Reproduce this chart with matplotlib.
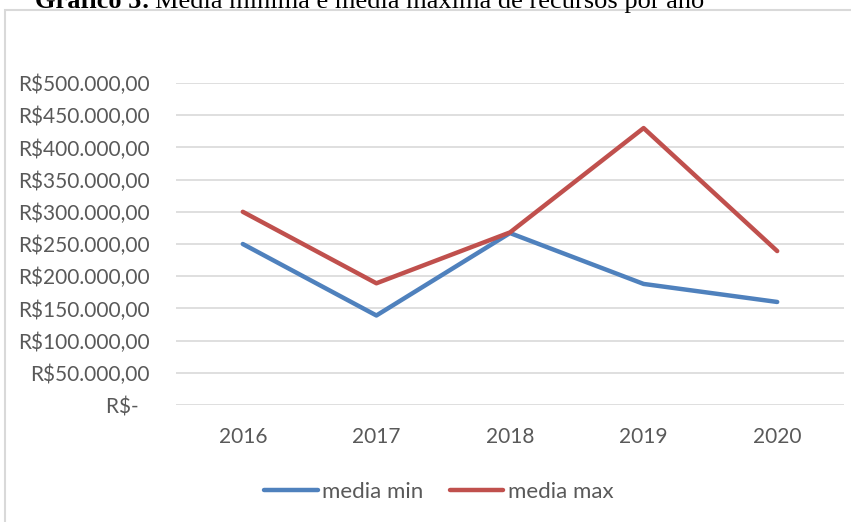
import matplotlib.pyplot as plt
from matplotlib.patches import Rectangle
from matplotlib.ticker import FuncFormatter

# data
years = ['2016', '2017', '2018', '2019', '2020']
media_min = [250000, 139000, 267000, 188000, 160000]
media_max = [300000, 189000, 268000, 430000, 239000]
y_ticks = [0, 50000, 100000, 150000, 200000, 250000, 300000, 350000, 400000, 450000, 500000]

blue = '#4F81BD'
red = '#C0504D'
grey_txt = '#595959'
fs = 15

fig = plt.figure(figsize=(8.51, 5.22), dpi=100)

# chart frame (light grey border, running off the right/bottom edge)
fig.patches.append(Rectangle((5 / 851, -0.1), 1.1, 1 - 10 / 522 + 0.1,
                             transform=fig.transFigure, fill=False,
                             edgecolor='#d9d9d9', linewidth=1.5))

# caption above the chart, cut off at the top edge like in the original
t1 = fig.text(35 / 851, 1 - 8 / 522, 'Gráfico 5:', family='Liberation Serif',
              fontsize=19, fontweight='bold', va='baseline', ha='left')
r = fig.canvas.get_renderer()
bb = t1.get_window_extent(renderer=r)
fig.text((bb.x1 + 5) / 851, 1 - 8 / 522, 'Média mínima e média máxima de recursos por ano',
         family='Liberation Serif', fontsize=19, va='baseline', ha='left')

ax = fig.add_axes([176 / 851, 1 - 405 / 522, (844 - 176) / 851, (405 - 83) / 522])

x = range(len(years))
ax.plot(x, media_min, color=blue, lw=3.2, solid_capstyle='round', label='media min', zorder=3)
ax.plot(x, media_max, color=red, lw=3.2, solid_capstyle='round', label='media max', zorder=3)

ax.set_xlim(-0.5, len(years) - 0.5)
ax.set_ylim(0, 500000)
ax.set_xticks(list(x))
ax.set_xticklabels(years)
ax.set_yticks(y_ticks)


def brl(v, pos):
    if v == 0:
        return 'R$-  '
    s = f'{v:,.2f}'.replace(',', 'X').replace('.', ',').replace('X', '.')
    return 'R$' + s


ax.yaxis.set_major_formatter(FuncFormatter(brl))
ax.grid(axis='y', color='#d9d9d9', lw=1.2)
ax.set_axisbelow(True)
for s in ax.spines.values():
    s.set_visible(False)
ax.tick_params(axis='both', length=0, labelcolor=grey_txt, labelsize=fs)
ax.tick_params(axis='y', pad=19)
ax.tick_params(axis='x', pad=16)
for lab in ax.get_xticklabels() + ax.get_yticklabels():
    lab.set_family('Lato')

leg = fig.legend(loc='center', bbox_to_anchor=(439 / 851, 1 - 492 / 522), ncol=2,
                 frameon=False, handlelength=2.4, handletextpad=0.2, columnspacing=1.2,
                 prop={'family': 'Lato', 'size': 16})
for t in leg.get_texts():
    t.set_color(grey_txt)

fig.savefig('out.png', dpi=100)
